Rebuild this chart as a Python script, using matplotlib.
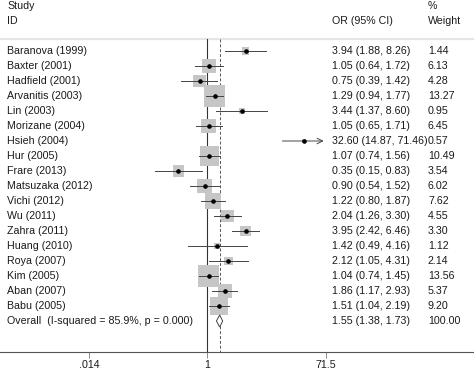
import numpy as np
import matplotlib
matplotlib.use('Agg')
import matplotlib.pyplot as plt
from matplotlib.patches import Polygon

plt.rcParams['font.family'] = ['Liberation Sans', 'DejaVu Sans']

studies = ["Baranova (1999)", "Baxter (2001)", "Hadfield (2001)", "Arvanitis (2003)",
           "Lin (2003)", "Morizane (2004)", "Hsieh (2004)", "Hur (2005)", "Frare (2013)",
           "Matsuzaka (2012)", "Vichi (2012)", "Wu (2011)", "Zahra (2011)", "Huang (2010)",
           "Roya (2007)", "Kim (2005)", "Aban (2007)", "Babu (2005)"]
odds = [3.94, 1.05, 0.75, 1.29, 3.44, 1.05, 32.60, 1.07, 0.35, 0.90, 1.22, 2.04, 3.95,
        1.42, 2.12, 1.04, 1.86, 1.51]
ci_low = [1.88, 0.64, 0.39, 0.94, 1.37, 0.65, 14.87, 0.74, 0.15, 0.54, 0.80, 1.26, 2.42,
          0.49, 1.05, 0.74, 1.17, 1.04]
ci_high = [8.26, 1.72, 1.42, 1.77, 8.60, 1.71, 71.46, 1.56, 0.83, 1.52, 1.87, 3.30, 6.46,
           4.16, 4.31, 1.45, 2.93, 2.19]
weights = [1.44, 6.13, 4.28, 13.27, 0.95, 6.45, 0.57, 10.49, 3.54, 6.02, 7.62, 4.55, 3.30,
           1.12, 2.14, 13.56, 5.37, 9.20]
overall_label = "Overall  (I-squared = 85.9%, p = 0.000)"
overall = (1.55, 1.38, 1.73)
overall_weight = "100.00"
xticks = [0.014, 1, 71.5]
xticklabels = [".014", "1", "71.5"]

W, H = 474, 374
txt = '#1a1a1a'
fs = 7.7

fig = plt.figure(figsize=(W / 100, H / 100), dpi=100)
axis_y = 352
ax = fig.add_axes([0, (H - axis_y) / H, 1, axis_y / H])

# log x scale: .014 sits at px 89, 71.5 at px 326
px_lo, px_hi = 89, 326
lo10, hi10 = np.log10(xticks[0]), np.log10(xticks[-1])
per_px = (hi10 - lo10) / (px_hi - px_lo)
ax.set_xscale('log')
ax.set_xlim(10 ** (lo10 - px_lo * per_px), 10 ** (hi10 + (W - px_hi) * per_px))
ax.set_ylim(axis_y, 0)  # y in pixels from top

for s in ['top', 'right', 'left']:
    ax.spines[s].set_visible(False)
ax.spines['bottom'].set_color('#555555')
ax.spines['bottom'].set_linewidth(0.8)
ax.set_yticks([])
ax.set_xticks(xticks)
ax.set_xticklabels(xticklabels, fontsize=fs, color=txt)
ax.xaxis.set_minor_locator(matplotlib.ticker.NullLocator())
ax.tick_params(axis='x', length=4, width=0.6, color='#777777', pad=2)

trans = ax.get_yaxis_transform()  # x in axes fraction, y in data
def xa(px):
    return px / W

row0, step = 51, 15
ys = row0 + step * np.arange(len(studies))
y_over = row0 + step * len(studies)
top_line = 38.5

# header
ax.text(xa(7), 6, "Study", transform=trans, fontsize=fs, color=txt, va='center')
ax.text(xa(7), 20.5, "ID", transform=trans, fontsize=fs, color=txt, va='center')
ax.text(xa(332), 20.5, "OR (95% CI)", transform=trans, fontsize=fs, color=txt, va='center')
ax.text(xa(428), 6, "%", transform=trans, fontsize=fs, color=txt, va='center')
ax.text(xa(428), 20.5, "Weight", transform=trans, fontsize=fs, color=txt, va='center')
ax.plot([0, 1], [top_line, top_line], transform=trans, color='#e6e6e6', lw=1.6, clip_on=False)

# reference lines
ax.plot([1, 1], [top_line, axis_y], color='#333333', lw=0.8)
ax.plot([overall[0], overall[0]], [top_line, axis_y], color='#555555', lw=0.7, ls=(0, (3, 2)))

xmax = xticks[-1]
max_side = 21.7  # px for the largest weight
for i, name in enumerate(studies):
    y = ys[i]
    side = max_side * np.sqrt(weights[i] / max(weights))
    ax.scatter([odds[i]], [y], marker='s', s=(side * 0.72) ** 2, color='#c6c6c6',
               edgecolors='none', zorder=2)
    if ci_high[i] >= xmax * 0.99:
        ax.annotate('', xy=(xmax * 0.92, y), xytext=(ci_low[i], y),
                    arrowprops=dict(arrowstyle='->', color='#444444', lw=0.7,
                                    shrinkA=0, shrinkB=0), zorder=3)
    else:
        ax.plot([ci_low[i], ci_high[i]], [y, y], color='#444444', lw=0.7, zorder=3)
    ax.plot([odds[i]], [y], 'o', color='black', ms=2.3, zorder=4)
    ax.text(xa(7), y, name, transform=trans, fontsize=fs, color=txt, va='center')
    ax.text(xa(332), y, f"{odds[i]:.2f} ({ci_low[i]:.2f}, {ci_high[i]:.2f})",
            transform=trans, fontsize=fs, color=txt, va='center')
    ax.text(xa(428), y, f"{weights[i]:.2f}", transform=trans, fontsize=fs, color=txt,
            va='center')

# overall diamond
est, lo_o, hi_o = overall
dia = Polygon([[lo_o, y_over], [est, y_over - 6], [hi_o, y_over], [est, y_over + 6]],
              closed=True, facecolor='white', edgecolor='#444444', lw=0.7, zorder=3)
ax.add_patch(dia)
ax.text(xa(7), y_over, overall_label, transform=trans, fontsize=fs, color=txt, va='center')
ax.text(xa(332), y_over, f"{est:.2f} ({lo_o:.2f}, {hi_o:.2f})", transform=trans,
        fontsize=fs, color=txt, va='center')
ax.text(xa(428), y_over, overall_weight, transform=trans, fontsize=fs, color=txt,
        va='center')

fig.savefig('out.png', dpi=100, facecolor='white')
